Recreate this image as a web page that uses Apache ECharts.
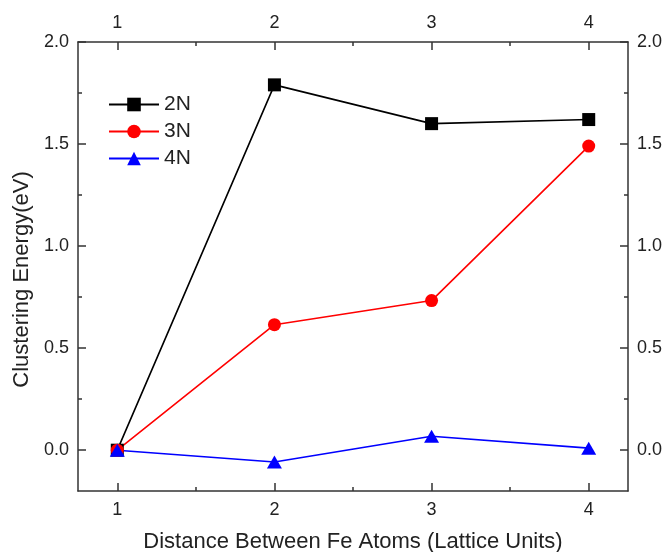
<!DOCTYPE html>
<html>
<head>
<meta charset="utf-8">
<script src="https://cdn.jsdelivr.net/npm/echarts@6/dist/echarts.min.js"></script>
<style>html,body{margin:0;padding:0;background:#fff}#c{width:666px;height:552px}</style>
</head>
<body>
<div id="c"></div>
<script>
var distances = [1, 2, 3, 4];
var series2N = [0.00, 1.79, 1.60, 1.62];
var series3N = [0.00, 0.615, 0.733, 1.49];
var series4N = [0.00, -0.058, 0.068, 0.010];
var xMajorTicks = [1, 2, 3, 4];
var xMinorTicks = [1.5, 2.5, 3.5];
var yMajorTicks = [0, 0.5, 1.0, 1.5, 2.0];
var yMinorTicks = [0.25, 0.75, 1.25, 1.75];

var FONT = 'Liberation Sans, Arial, sans-serif';
var chart = echarts.init(document.getElementById('c'));
function pairs(xs, ys){ return xs.map(function(x,i){return [x, ys[i]];}); }
var axisLineStyle = {color:'#333', width:1.5};
function xAxisDef(pos, ticks, len, showLabel, showLine){
  return {
    type:'value', position:pos, min:0.75, max:4.25,
    axisLine:{show:showLine, onZero:false, lineStyle:axisLineStyle},
    axisTick:{show:true, inside:true, length:len, customValues:ticks, lineStyle:{color:'#333', width:1.5}},
    axisLabel:{show:showLabel, customValues:ticks, margin:10, fontSize:18, color:'#222', fontFamily:FONT, formatter:function(v){return String(v);}},
    splitLine:{show:false}
  };
}
function yAxisDef(pos, ticks, len, showLabel, showLine){
  return {
    type:'value', position:pos, min:-0.2, max:2.0,
    axisLine:{show:showLine, onZero:false, lineStyle:axisLineStyle},
    axisTick:{show:true, inside:true, length:len, customValues:ticks, lineStyle:{color:'#333', width:1.5}},
    axisLabel:{show:showLabel, customValues:ticks, margin:9, fontSize:18, color:'#222', fontFamily:FONT, formatter:function(v){return v.toFixed(1);}},
    splitLine:{show:false}
  };
}
var xb = xAxisDef('bottom', xMajorTicks, 8, true, true);
xb.name = 'Distance Between Fe Atoms (Lattice Units)';
xb.nameLocation = 'middle';
xb.nameGap = 40;
xb.nameTextStyle = {fontSize:22, color:'#222', fontFamily:FONT};
var yl = yAxisDef('left', yMajorTicks, 8, true, true);
yl.name = 'Clustering Energy(eV)';
yl.nameLocation = 'middle';
yl.nameGap = 43;
yl.nameTextStyle = {fontSize:22, color:'#222', fontFamily:FONT, padding:[0, 26, 0, 0]};

var option = {
  backgroundColor:'#fff',
  animation:false,
  grid:{left:78, right:38, top:42, bottom:61, containLabel:false, outerBoundsMode:'none'},
  xAxis:[
    xb,
    xAxisDef('bottom', xMinorTicks, 4, false, false),
    xAxisDef('top', xMajorTicks, 8, true, true),
    xAxisDef('top', xMinorTicks, 4, false, false)
  ],
  yAxis:[
    yl,
    yAxisDef('left', yMinorTicks, 4, false, false),
    yAxisDef('right', yMajorTicks, 8, true, true),
    yAxisDef('right', yMinorTicks, 4, false, false)
  ],
  legend:{
    orient:'vertical', left:103, top:89, itemWidth:50, itemHeight:17, itemGap:6,
    textStyle:{fontSize:21, color:'#222', fontFamily:FONT},
    data:['2N','3N','4N']
  },
  series:[
    {name:'2N', type:'line', data:pairs(distances, series2N), symbol:'rect', symbolSize:13,
     lineStyle:{color:'#000', width:1.6}, itemStyle:{color:'#000'}},
    {name:'3N', type:'line', data:pairs(distances, series3N), symbol:'circle', symbolSize:13,
     lineStyle:{color:'#ff0000', width:1.6}, itemStyle:{color:'#ff0000'}},
    {name:'4N', type:'line', data:pairs(distances, series4N), symbol:'triangle', symbolSize:[15,13],
     lineStyle:{color:'#0000ff', width:1.6}, itemStyle:{color:'#0000ff'}}
  ]
};
chart.setOption(option);
</script>
</body>
</html>
